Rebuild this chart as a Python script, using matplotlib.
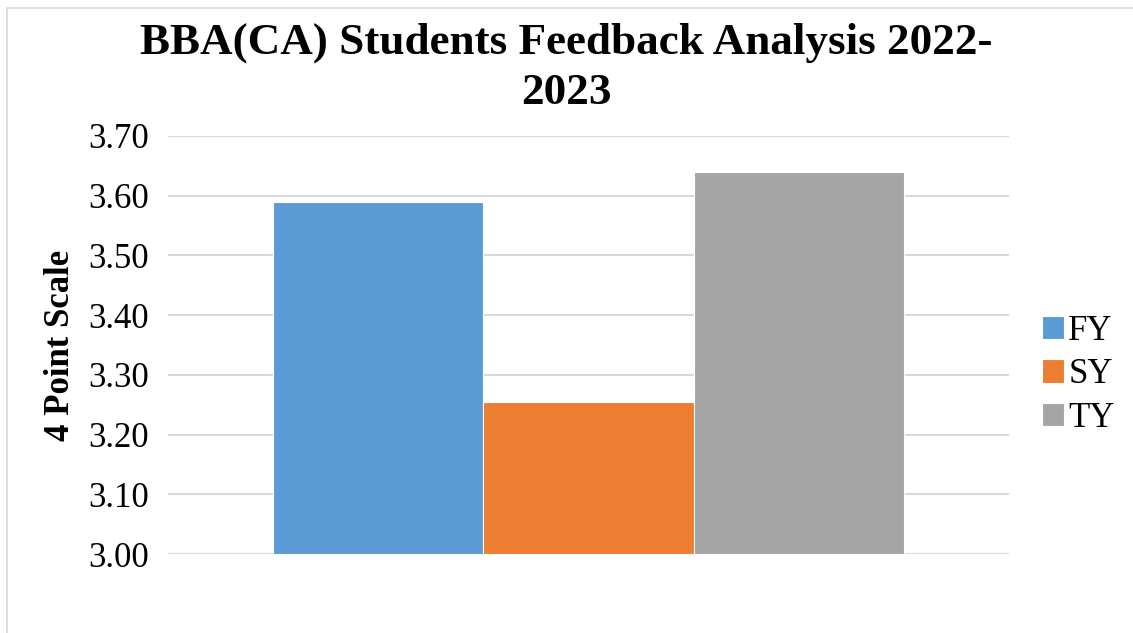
import matplotlib
matplotlib.use("Agg")
import matplotlib.pyplot as plt
from matplotlib.patches import Rectangle

# Data
series = ["FY", "SY", "TY"]
scores = [3.59, 3.255, 3.64]
colors = ["#5B9BD5", "#ED7D31", "#A5A5A5"]
yticks = [3.00, 3.10, 3.20, 3.30, 3.40, 3.50, 3.60, 3.70]

plt.rcParams["font.family"] = ["Liberation Serif", "DejaVu Serif"]

fig = plt.figure(figsize=(11.33, 6.33), dpi=100)
ax = fig.add_axes([0.1483, 0.1248, 0.7423, 0.6604])

width = 0.25
for i, (name, val, c) in enumerate(zip(series, scores, colors)):
    ax.bar((i - 1) * width, val - 3.0, width, bottom=3.0, color=c,
           label=name, zorder=3, edgecolor="white", linewidth=0.8)

ax.set_xlim(-0.5, 0.5)
ax.set_ylim(3.0, 3.7)
ax.set_yticks(yticks)
ax.set_yticklabels([f"{t:.2f}" for t in yticks], fontsize=25)
ax.set_xticks([])
ax.tick_params(axis="y", length=0, pad=14)
ax.yaxis.grid(True, color="#D9D9D9", linewidth=1.5, zorder=0)
for s in ax.spines.values():
    s.set_visible(False)

ax.set_ylabel("4 Point Scale", fontsize=25, fontweight="bold", labelpad=8)

fig.suptitle("BBA(CA) Students Feedback Analysis 2022-\n2023", fontsize=32.5,
             fontweight="bold", y=0.965, linespacing=1.35)

ax.legend(loc="center left", bbox_to_anchor=(0.907, 0.408), bbox_transform=fig.transFigure,
          frameon=False, fontsize=25, handlelength=0.65, handleheight=0.65,
          handletextpad=0.12, labelspacing=0.3, borderaxespad=0)

# light frame around the chart area
fig.patches.append(Rectangle((0.006, -0.01), 1.0, 0.998, transform=fig.transFigure,
                             fill=False, edgecolor="#D9D9D9", linewidth=1.2))

fig.savefig("out.png", dpi=100)
